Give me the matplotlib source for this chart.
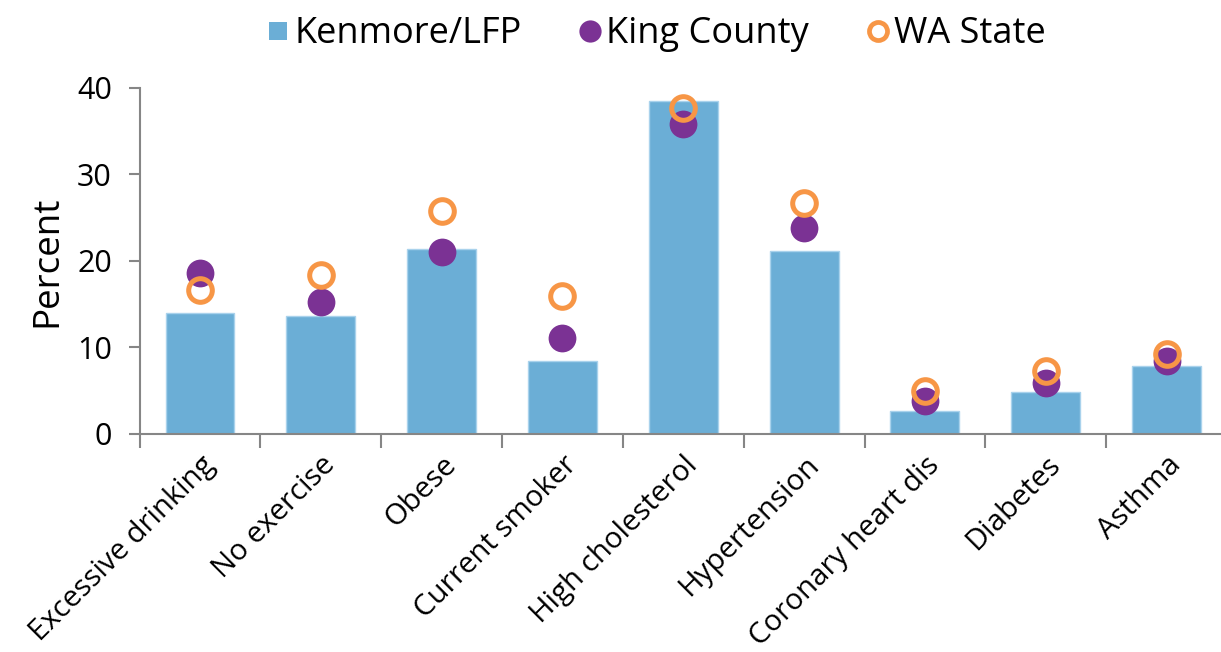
import matplotlib
matplotlib.use("Agg")
import matplotlib.pyplot as plt
from matplotlib.lines import Line2D
from matplotlib.ticker import FixedLocator

categories = ["Excessive drinking", "No exercise", "Obese", "Current smoker",
              "High cholesterol", "Hypertension", "Coronary heart dis",
              "Diabetes", "Asthma"]
kenmore = [14.0, 13.6, 21.35, 8.4, 38.5, 21.1, 2.7, 4.8, 7.9]
king_county = [18.65, 15.2, 21.0, 11.05, 35.8, 23.8, 3.85, 5.9, 8.4]
wa_state = [16.6, 18.4, 25.8, 15.9, 37.7, 26.7, 5.0, 7.3, 9.2]
yticks = [0, 10, 20, 30, 40]

BLUE = "#6baed6"
PURPLE = "#7b3294"
ORANGE = "#f79646"
GRAY = "#868686"

plt.rcParams["font.family"] = ["Open Sans", "DejaVu Sans"]

fig = plt.figure(figsize=(12.21, 6.52), dpi=100)
ax = fig.add_axes([0.1143, 0.3344, 0.8906, 0.5307])

x = list(range(len(categories)))
ax.bar(x, kenmore, width=0.57, color=BLUE, edgecolor="#a9d2ec", linewidth=1, zorder=2)
ax.plot(x, king_county, linestyle="none", marker="o", markersize=20,
        color=PURPLE, markeredgewidth=0, zorder=3)
ax.plot(x, wa_state, linestyle="none", marker="o", markersize=17,
        markerfacecolor="none", markeredgecolor=ORANGE, markeredgewidth=3.6, zorder=4)

ax.set_xlim(-0.5, len(categories) - 0.5)
ax.set_ylim(0, 40)
ax.set_yticks(yticks)
ax.set_yticklabels([str(v) for v in yticks], fontsize=22)

ax.set_xticks(x)
ax.set_xticklabels(categories, rotation=45, ha="right", rotation_mode="anchor",
                   fontsize=21.2)
ax.xaxis.set_minor_locator(FixedLocator([i - 0.5 for i in range(len(categories) + 1)]))
ax.tick_params(axis="x", which="major", length=0, pad=12)
ax.tick_params(axis="x", which="minor", length=10, width=1.5, color=GRAY, direction="out")
ax.tick_params(axis="y", which="major", length=8, width=1.5, color=GRAY, direction="out", pad=12)

for s in ["top", "right"]:
    ax.spines[s].set_visible(False)
for s in ["left", "bottom"]:
    ax.spines[s].set_color(GRAY)
    ax.spines[s].set_linewidth(1.5)

ax.set_ylabel("Percent", fontsize=26.5, labelpad=8)

handles = [
    Line2D([], [], linestyle="none", marker="s", markersize=13, color=BLUE, markeredgewidth=0),
    Line2D([], [], linestyle="none", marker="o", markersize=16, color=PURPLE, markeredgewidth=0),
    Line2D([], [], linestyle="none", marker="o", markersize=13, markerfacecolor="none",
           markeredgecolor=ORANGE, markeredgewidth=3.4),
]
fig.legend(handles, ["Kenmore/LFP", "King County", "WA State"], loc="upper center",
           bbox_to_anchor=(0.536, 1.025), ncol=3, frameon=False, fontsize=26,
           handletextpad=0.05, columnspacing=1.5, handlelength=0.8)

fig.savefig("out.png", dpi=100)
